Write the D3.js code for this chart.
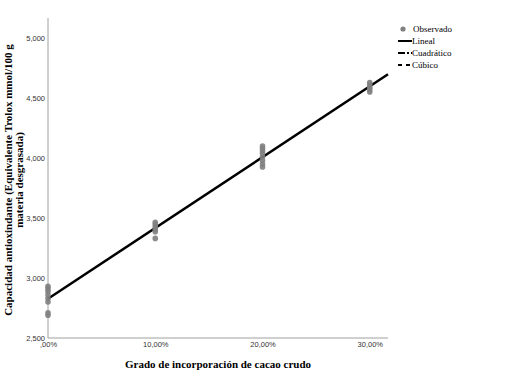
<!DOCTYPE html>
<html>
<head>
<meta charset="utf-8">
<script src="https://cdn.jsdelivr.net/npm/d3@7"></script>
<style>
  body { margin: 0; background: #fff; }
  svg { display: block; }
</style>
</head>
<body>
<svg id="chart"></svg>
<script>
// observed values (cacao incorporation %, antioxidant capacity)
const levels = [0, 10, 20, 30];
const obs0 = [2930, 2910, 2890, 2860, 2830, 2800, 2710, 2690];
const obs10 = [3465, 3445, 3425, 3405, 3385, 3330];
const obs20 = [4100, 4080, 4060, 4040, 4010, 3980, 3950, 3925];
const obs30 = [4630, 4610, 4590, 4570, 4550];
const yTicks = [2500, 3000, 3500, 4000, 4500, 5000];
const xTicks = [0, 10, 20, 30];
const legendItems = ["Observado", "Lineal", "Cuadrático", "Cúbico"];

const width = 518, height = 382;
const margin = { top: 18, right: 130, bottom: 44, left: 48 };

const svg = d3.select("#chart").attr("width", width).attr("height", height);

const points = [];
[obs0, obs10, obs20, obs30].forEach((arr, i) => arr.forEach(v => points.push({ x: levels[i], y: v })));

const x = d3.scaleLinear().domain([0, 31.7]).range([margin.left, width - margin.right]);
const y = d3.scaleLinear().domain([2500, 5167]).range([height - margin.bottom, margin.top]);

// least squares linear fit
const mx = d3.mean(points, d => d.x), my = d3.mean(points, d => d.y);
const slope = d3.sum(points, d => (d.x - mx) * (d.y - my)) / d3.sum(points, d => (d.x - mx) ** 2);
const icpt = my - slope * mx;

const g = svg.append("g");

// axes
const yAxis = d3.axisLeft(y).tickValues(yTicks).tickSize(0).tickPadding(3)
  .tickFormat(d3.format(",.0f"));
const xAxis = d3.axisBottom(x).tickValues(xTicks).tickSize(0).tickPadding(4)
  .tickFormat(d => (d === 0 ? "" : d) + ",00%");

g.append("g").attr("transform", `translate(${margin.left},0)`).call(yAxis)
  .call(s => s.select(".domain").attr("stroke", "#a0a0a0").attr("d", `M0,${y.range()[1]}V${y.range()[0]}`))
  .selectAll("text").attr("font-family", "Liberation Sans Narrow, Liberation Sans, Arial").attr("font-size", 7.5).attr("fill", "#333");

g.append("g").attr("transform", `translate(0,${y.range()[0]})`).call(xAxis)
  .call(s => s.select(".domain").attr("stroke", "#a0a0a0").attr("d", `M${x.range()[0]},0H${x.range()[1]}`))
  .selectAll("text").attr("font-family", "Liberation Sans Narrow, Liberation Sans, Arial").attr("font-size", 7.5).attr("fill", "#333");

// fit line
const fit = d3.line().x(d => x(d)).y(d => y(icpt + slope * d));
g.append("path").datum(x.domain())
  .attr("d", fit).attr("fill", "none").attr("stroke", "#000").attr("stroke-width", 2.5);

// observed points
g.selectAll(".pt").data(points).join("circle")
  .attr("class", "pt")
  .attr("cx", d => x(d.x)).attr("cy", d => y(d.y)).attr("r", 2.8)
  .attr("fill", "#808080").attr("opacity", 0.9);

// axis titles
svg.append("text")
  .attr("x", 218).attr("y", 368).attr("text-anchor", "middle")
  .attr("font-family", "Liberation Serif, Times New Roman").attr("font-weight", "bold").attr("font-size", 11)
  .text("Grado de incorporación de cacao crudo");

const yt = svg.append("text")
  .attr("transform", "translate(0,180) rotate(-90)")
  .attr("text-anchor", "middle")
  .attr("font-family", "Liberation Serif, Times New Roman").attr("font-weight", "bold").attr("font-size", 11);
yt.append("tspan").attr("x", 0).attr("y", 12).text("Capacidad antioxindante (Equivalente Trolox mmol/100 g");
yt.append("tspan").attr("x", 0).attr("y", 23).text("materia desgrasada)");

// legend
const legend = svg.append("g").attr("transform", "translate(398,29)");
const dashes = [null, null, "7,2,2,2", "4,4"];
legendItems.forEach((name, i) => {
  const row = legend.append("g").attr("transform", `translate(0,${i * 12})`);
  if (i === 0) {
    row.append("circle").attr("cx", 5).attr("cy", 0).attr("r", 2.6).attr("fill", "#808080");
  } else {
    row.append("line").attr("x1", 0).attr("x2", 14).attr("y1", 0).attr("y2", 0)
      .attr("stroke", "#000").attr("stroke-width", 2)
      .attr("stroke-dasharray", dashes[i]);
  }
  row.append("text").attr("x", i === 0 ? 15 : 14).attr("y", 3)
    .attr("font-family", "Liberation Serif, Times New Roman").attr("font-size", 9).attr("fill", "#000")
    .text(name);
});
</script>
</body>
</html>
